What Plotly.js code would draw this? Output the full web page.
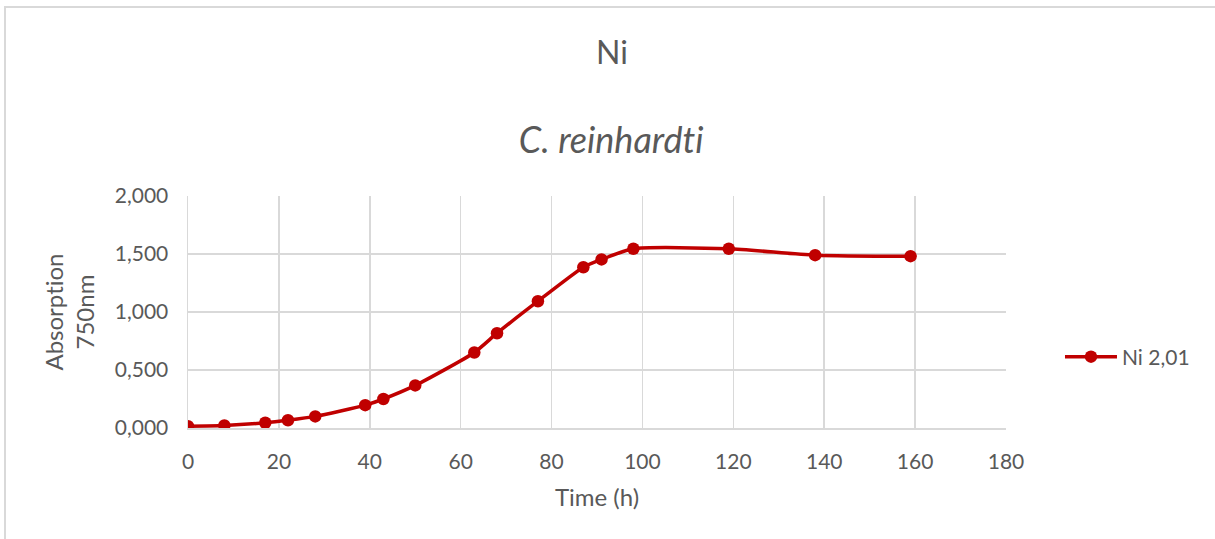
<!DOCTYPE html>
<html>
<head>
<meta charset="utf-8">
<script src="https://cdn.plot.ly/plotly-3.0.1.min.js"></script>
<style>
  html, body { margin: 0; padding: 0; background: #fff; }
  #wrap { position: relative; width: 1215px; height: 539px; }
  #chart { width: 1215px; height: 539px; }
  #chart text { font-variant-ligatures: none; font-feature-settings: "liga" 0; }
  #frame { position: absolute; left: 4px; top: 6px; width: 1215px; height: 539px;
           border-left: 2px solid #d9d9d9; border-top: 2px solid #d9d9d9; pointer-events: none; }
</style>
</head>
<body>
<div id="wrap">
  <div id="chart"></div>
  <div id="frame"></div>
</div>
<script>
const timeHours = [0, 8, 17, 22, 28, 39, 43, 50, 63, 68, 77, 87, 91, 98, 119, 138, 159];
const absorption = [0.016, 0.022, 0.045, 0.067, 0.10, 0.197, 0.25, 0.367, 0.651, 0.817, 1.093, 1.386, 1.453, 1.545, 1.545, 1.49, 1.481];
const seriesName = "Ni 2,01";
const chartTitle = "Ni";
const chartSubtitle = "C. reinhardti";
const xTickVals = [0, 20, 40, 60, 80, 100, 120, 140, 160, 180];
const yTickVals = [0, 0.5, 1.0, 1.5, 2.0];
const yTickText = ["0,000", "0,500", "1,000", "1,500", "2,000"];

const fontFam = "Lato, 'Open Sans', sans-serif";
const textCol = "#595959";
const gridCol = "#d9d9d9";

const trace = {
  x: timeHours,
  y: absorption,
  type: "scatter",
  mode: "lines+markers",
  name: seriesName,
  line: { color: "#C00000", width: 3.5, shape: "spline", smoothing: 0.6 },
  marker: { color: "#C00000", size: 12.5 }
};

const layout = {
  width: 1215,
  height: 539,
  paper_bgcolor: "#ffffff",
  plot_bgcolor: "#ffffff",
  margin: { l: 188, r: 209, t: 196, b: 111 },
  font: { family: fontFam, color: textCol },
  showlegend: true,
  legend: {
    x: 1.066, y: 0.306, xanchor: "left", yanchor: "middle",
    itemwidth: 52,
    font: { family: fontFam, size: 21, color: textCol },
    bgcolor: "rgba(0,0,0,0)"
  },
  xaxis: {
    range: [0, 180],
    tickvals: xTickVals,
    ticks: "",
    showgrid: true,
    gridcolor: gridCol,
    gridwidth: 1.5,
    zeroline: false,
    showline: true,
    linecolor: gridCol,
    linewidth: 1.5,
    tickfont: { family: fontFam, size: 21, color: textCol },
    ticklabelstandoff: 14,
    title: { text: "Time (h)", font: { family: fontFam, size: 24, color: textCol }, standoff: 17 }
  },
  yaxis: {
    range: [0, 2.0],
    tickvals: yTickVals,
    ticktext: yTickText,
    ticks: "",
    showgrid: true,
    gridcolor: gridCol,
    gridwidth: 1.5,
    zeroline: false,
    showline: true,
    linecolor: gridCol,
    linewidth: 1.5,
    tickfont: { family: fontFam, size: 21, color: textCol },
    ticklabelstandoff: 14,
    title: { text: "Absorption<br>750nm", font: { family: fontFam, size: 24, color: textCol }, standoff: 13 }
  },
  annotations: [
    { text: chartTitle, xref: "paper", yref: "paper", x: 0.518, y: 1.625, xanchor: "center", yanchor: "middle",
      showarrow: false, font: { family: fontFam, size: 32, color: textCol } },
    { text: "<i>" + chartSubtitle + "</i>", xref: "paper", yref: "paper", x: 0.518, y: 1.245, xanchor: "center", yanchor: "middle",
      showarrow: false, font: { family: fontFam, size: 36, color: textCol } }
  ]
};

Plotly.newPlot("chart", [trace], layout, { displayModeBar: false, staticPlot: true });
</script>
</body>
</html>
